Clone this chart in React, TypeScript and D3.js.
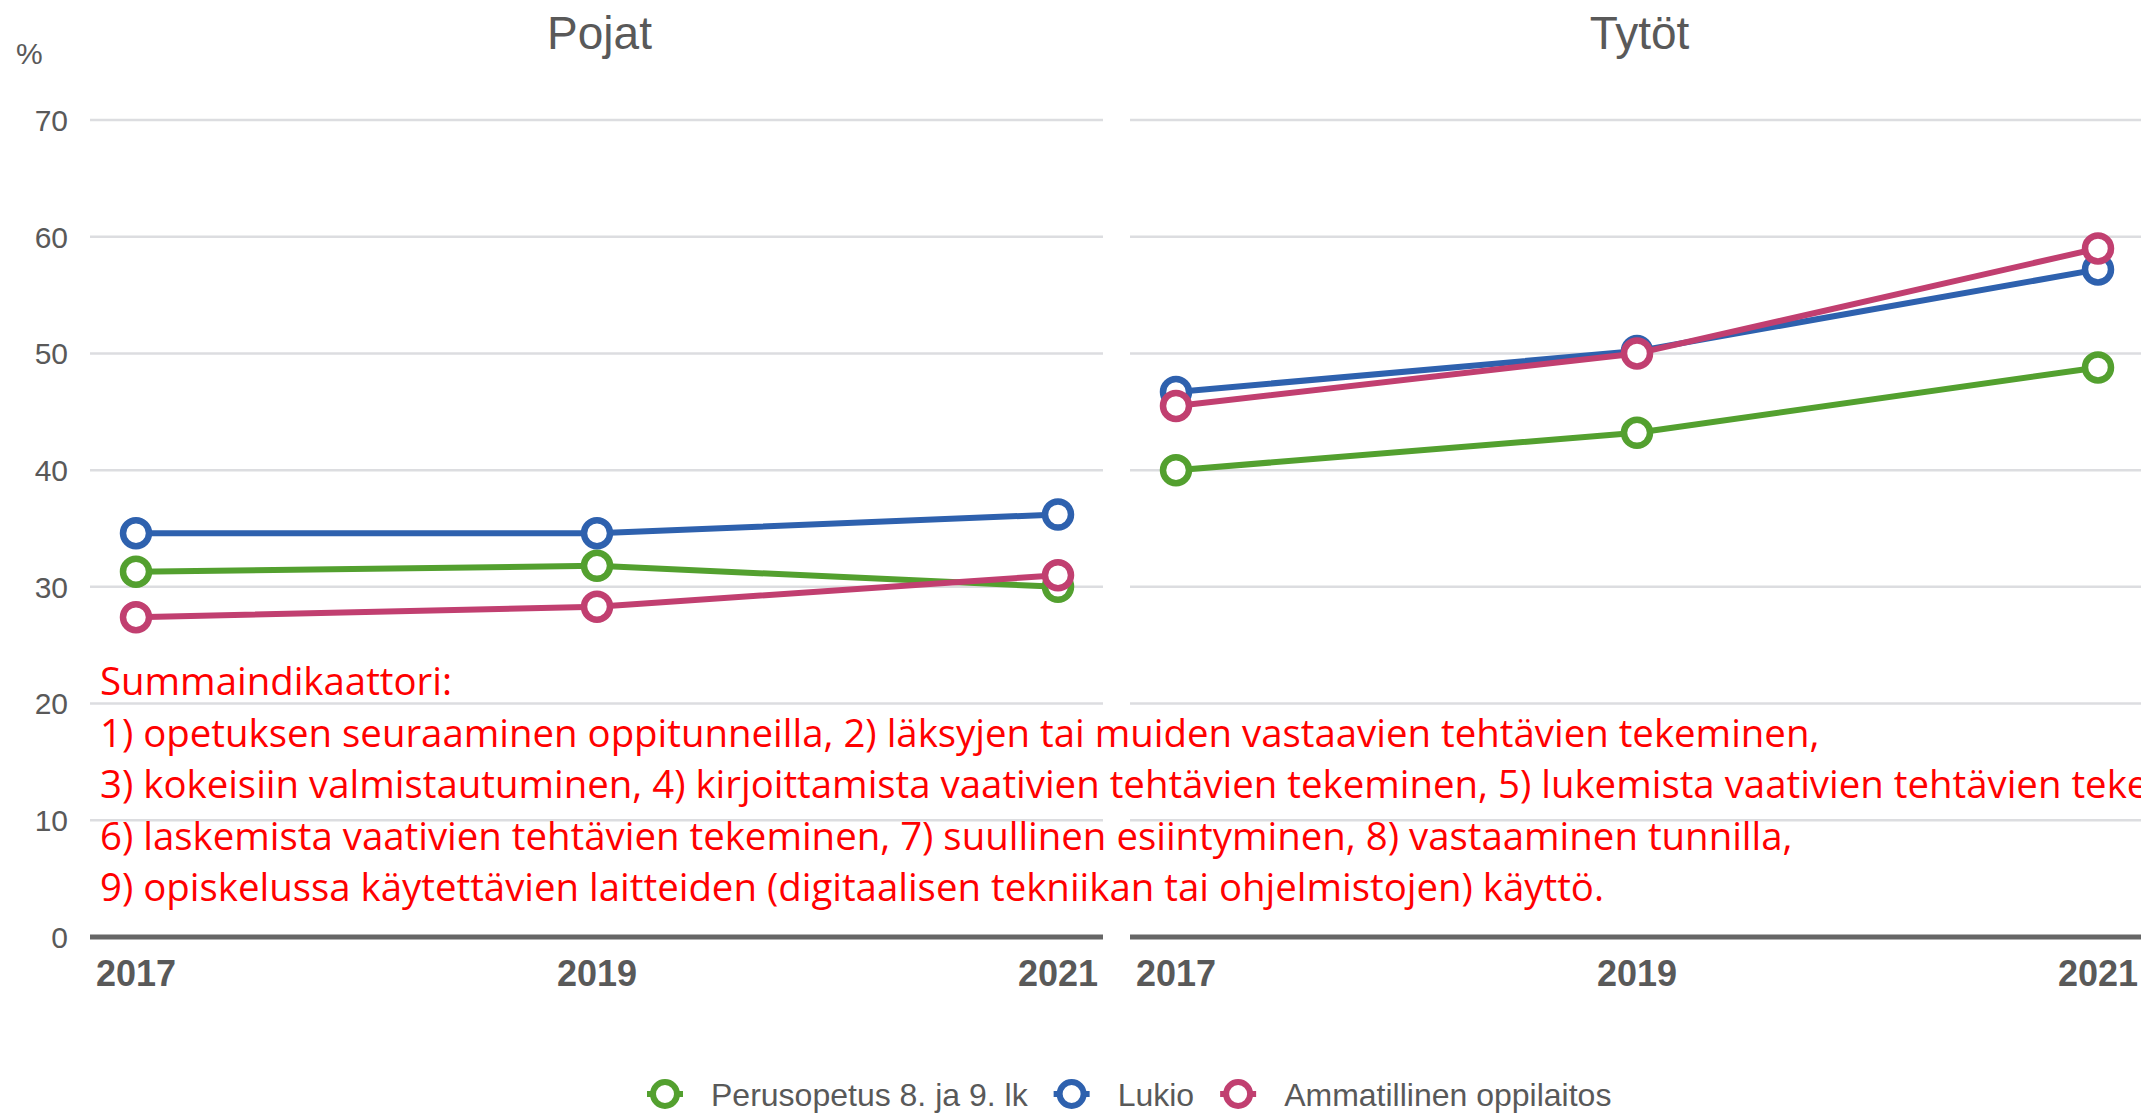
import React, { useRef, useEffect } from "react";
import * as d3 from "d3";

// data
const years = [2017, 2019, 2021];
const panelTitles = ["Pojat", "Tytöt"];
const seriesNames = ["Perusopetus 8. ja 9. lk", "Lukio", "Ammatillinen oppilaitos"];
const seriesColors = ["#53a02f", "#2e61ae", "#c13f70"];

const pojatPerus = [31.3, 31.8, 30.0];
const pojatLukio = [34.6, 34.6, 36.2];
const pojatAmmat = [27.4, 28.3, 31.0];

const tytotPerus = [40.0, 43.2, 48.8];
const tytotLukio = [46.7, 50.2, 57.2];
const tytotAmmat = [45.5, 50.0, 59.0];

const yTicks = [0, 10, 20, 30, 40, 50, 60, 70];

const noteLines = [
  "Summaindikaattori:",
  "1) opetuksen seuraaminen oppitunneilla, 2) läksyjen tai muiden vastaavien tehtävien tekeminen,",
  "3) kokeisiin valmistautuminen, 4) kirjoittamista vaativien tehtävien tekeminen, 5) lukemista vaativien tehtävien tekeminen,",
  "6) laskemista vaativien tehtävien tekeminen, 7) suullinen esiintyminen, 8) vastaaminen tunnilla,",
  "9) opiskelussa käytettävien laitteiden (digitaalisen tekniikan tai ohjelmistojen) käyttö.",
];

const W = 2141;
const H = 1114;
const FONT = "'Liberation Sans', Arial, sans-serif";
const GREY = "#595959";

function App() {
  const svgRef = useRef(null);

  function renderChart() {
    document.body.style.margin = "0";
    const svg = d3.select(svgRef.current);
    svg.selectAll("*").remove();

    const panelData = [
      [pojatPerus, pojatLukio, pojatAmmat],
      [tytotPerus, tytotLukio, tytotAmmat],
    ];
    const panelLeft = [90, 1130];
    const panelWidth = 1013;

    const y = d3.scaleLinear().domain([0, 70]).range([937, 120]);

    // y tick labels + % label
    svg
      .append("text")
      .attr("x", 16)
      .attr("y", 64)
      .attr("font-family", FONT)
      .attr("font-size", 30)
      .attr("fill", GREY)
      .text("%");

    svg
      .selectAll("text.ytick")
      .data(yTicks)
      .join("text")
      .attr("class", "ytick")
      .attr("x", 68)
      .attr("y", (d) => y(d))
      .attr("dy", "0.36em")
      .attr("text-anchor", "end")
      .attr("font-family", FONT)
      .attr("font-size", 30)
      .attr("fill", GREY)
      .text((d) => d);

    panelData.forEach((series, p) => {
      const x0 = panelLeft[p];
      const x = d3
        .scaleLinear()
        .domain([2017, 2021])
        .range([x0 + 46, x0 + panelWidth - 45]);
      const g = svg.append("g");

      // gridlines
      g.selectAll("line.grid")
        .data(yTicks.filter((t) => t > 0))
        .join("line")
        .attr("class", "grid")
        .attr("x1", x0)
        .attr("x2", x0 + panelWidth)
        .attr("y1", (d) => y(d))
        .attr("y2", (d) => y(d))
        .attr("stroke", "#dcdde0")
        .attr("stroke-width", 2.5);

      // baseline
      g.append("line")
        .attr("x1", x0)
        .attr("x2", x0 + panelWidth)
        .attr("y1", y(0))
        .attr("y2", y(0))
        .attr("stroke", "#666666")
        .attr("stroke-width", 5);

      // title
      g.append("text")
        .attr("x", x0 + panelWidth / 2 + 3)
        .attr("y", 49)
        .attr("text-anchor", "middle")
        .attr("font-family", FONT)
        .attr("font-size", 46)
        .attr("fill", GREY)
        .text(panelTitles[p]);

      // x labels
      g.selectAll("text.xtick")
        .data(years)
        .join("text")
        .attr("class", "xtick")
        .attr("x", (d) => x(d))
        .attr("y", 986)
        .attr("text-anchor", "middle")
        .attr("font-family", FONT)
        .attr("font-size", 36)
        .attr("font-weight", "bold")
        .attr("fill", GREY)
        .text((d) => d);

      const line = d3
        .line()
        .x((d, i) => x(years[i]))
        .y((d) => y(d));

      series.forEach((vals, s) => {
        g.append("path")
          .datum(vals)
          .attr("d", line)
          .attr("fill", "none")
          .attr("stroke", seriesColors[s])
          .attr("stroke-width", 6)
          .attr("stroke-linejoin", "round");
        g.selectAll("circle.s" + s)
          .data(vals)
          .join("circle")
          .attr("class", "s" + s)
          .attr("cx", (d, i) => x(years[i]))
          .attr("cy", (d) => y(d))
          .attr("r", 13)
          .attr("fill", "white")
          .attr("stroke", seriesColors[s])
          .attr("stroke-width", 6.5);
      });
    });

    // red note text, sized so the first item line matches the original width
    const note = svg
      .append("g")
      .attr("font-family", "'Open Sans', 'Noto Sans', sans-serif")
      .attr("fill", "#ff0000");
    const noteText = note
      .selectAll("text")
      .data(noteLines)
      .join("text")
      .attr("x", 100)
      .attr("y", (d, i) => 695 + i * 51.5)
      .attr("font-size", 32)
      .text((d) => d);
    const measured = noteText.nodes()[1].getComputedTextLength();
    const fitted = (32 * 1720) / measured;
    noteText.attr("font-size", fitted);

    // legend
    const legend = svg.append("g").attr("font-family", FONT).attr("font-size", 32).attr("fill", GREY);
    let cx = 665;
    seriesNames.forEach((name, s) => {
      const item = legend.append("g");
      item
        .append("line")
        .attr("x1", cx - 18)
        .attr("x2", cx + 18)
        .attr("y1", 1094)
        .attr("y2", 1094)
        .attr("stroke", seriesColors[s])
        .attr("stroke-width", 6);
      item
        .append("circle")
        .attr("cx", cx)
        .attr("cy", 1094)
        .attr("r", 12)
        .attr("fill", "white")
        .attr("stroke", seriesColors[s])
        .attr("stroke-width", 6);
      const t = item
        .append("text")
        .attr("x", cx + 46)
        .attr("y", 1094)
        .attr("dy", "0.36em")
        .text(name);
      const w = t.node().getComputedTextLength();
      cx = cx + 46 + w + 44;
    });
  }

  useEffect(() => {
    renderChart();
  }, []);

  return (
    <div style={{ width: W, height: H, overflow: "hidden" }}>
      <svg ref={svgRef} width={W} height={H} style={{ display: "block" }} />
    </div>
  );
}

export default App;
